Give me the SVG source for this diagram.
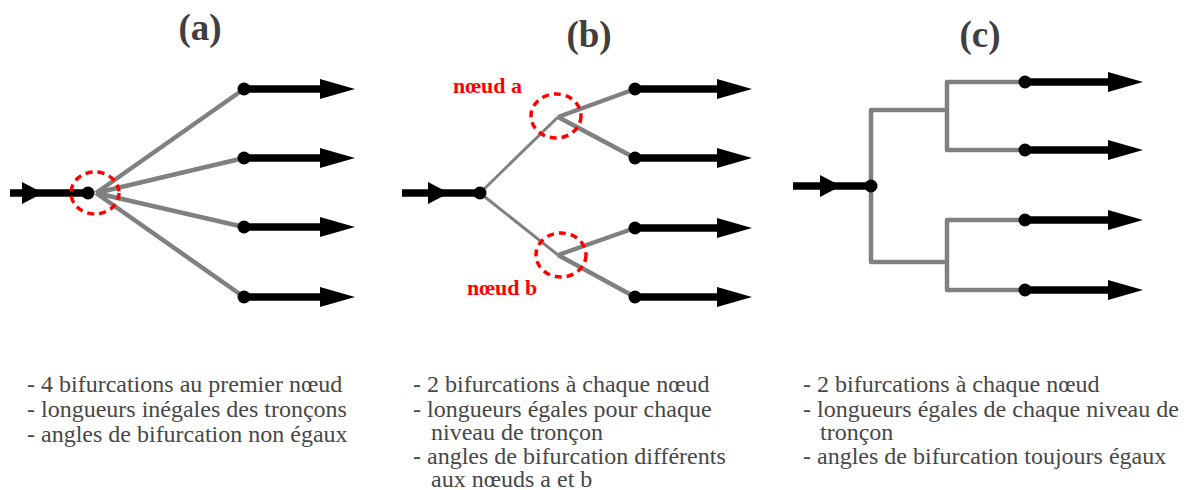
<svg xmlns="http://www.w3.org/2000/svg" width="1199" height="490" viewBox="0 0 1199 490">
<defs>
<style>
.title{font-family:"Liberation Serif","Times New Roman",serif;font-weight:bold;font-size:37px;fill:#3f3f3f;text-anchor:middle}
.desc{font-family:"Liberation Serif","Times New Roman",serif;font-size:24px;fill:#474747}
.lbl{font-family:"Liberation Serif","Times New Roman",serif;font-weight:bold;font-size:22px;fill:#ff0000}
.br{fill:none;stroke:#808080;stroke-width:4.5;stroke-linejoin:round}
.thin{stroke-width:3}
.out{fill:none;stroke:#000;stroke-width:7.5;marker-end:url(#head)}
.in{fill:none;stroke:#000;stroke-width:7.5;marker-mid:url(#mid)}
.dot{fill:#000}
.ring{fill:none;stroke:#ff0000;stroke-width:3.5;stroke-dasharray:7 5}
</style>
<marker id="head" markerUnits="userSpaceOnUse" markerWidth="36" markerHeight="22" refX="0" refY="10" orient="auto" overflow="visible">
<path d="M0,0 L35,10 L0,20 z" fill="#000"/>
</marker>
<marker id="mid" markerUnits="userSpaceOnUse" markerWidth="22" markerHeight="24" refX="0" refY="11" orient="auto" overflow="visible">
<path d="M0,0 L21,11 L0,22 z" fill="#000"/>
</marker>
</defs>
<rect width="1199" height="490" fill="#fff"/>

<g id="titles">
<text class="title" x="200" y="40">(a)</text>
<text class="title" x="589" y="47">(b)</text>
<text class="title" x="980" y="47">(c)</text>
</g>

<g id="connectors">
<!-- panel a -->
<polyline class="in" points="10,193 22,193 88,193"/>
<path class="br" d="M96,193 L244,89 M96,193 L244,158 M96,193 L244,227 M96,193 L244,297"/>
<path class="out" d="M244,89 H320"/>
<path class="out" d="M244,158 H320"/>
<path class="out" d="M244,227 H320"/>
<path class="out" d="M244,297 H320"/>
<!-- panel b -->
<polyline class="in" points="402,193 428,193 480,193"/>
<path class="br thin" d="M480,193 L558,117 M480,193 L558,255"/>
<path class="br" d="M558,117 L635,89 M558,117 L635,158 M558,255 L635,228 M558,255 L635,297"/>
<path class="out" d="M635,89 H717"/>
<path class="out" d="M635,158 H717"/>
<path class="out" d="M635,228 H717"/>
<path class="out" d="M635,297 H717"/>
<!-- panel c -->
<polyline class="in" points="793,186 820,186 871,186"/>
<path class="br" d="M947,110 H871 V262 H947"/>
<path class="br" d="M1025,82 H947 V150 H1025"/>
<path class="br" d="M1025,220 H947 V290 H1025"/>
<path class="out" d="M1025,82 H1108"/>
<path class="out" d="M1025,150 H1108"/>
<path class="out" d="M1025,220 H1108"/>
<path class="out" d="M1025,290 H1108"/>
</g>

<g id="node-a-root"><circle class="dot" cx="88" cy="193" r="6.5"/><ellipse class="ring" cx="95" cy="193" rx="24" ry="21"/></g>
<g id="node-a-1"><circle class="dot" cx="244" cy="89" r="6.5"/></g>
<g id="node-a-2"><circle class="dot" cx="244" cy="158" r="6.5"/></g>
<g id="node-a-3"><circle class="dot" cx="244" cy="227" r="6.5"/></g>
<g id="node-a-4"><circle class="dot" cx="244" cy="297" r="6.5"/></g>

<g id="node-b-root"><circle class="dot" cx="480" cy="193" r="6.5"/></g>
<g id="node-b-a"><ellipse class="ring" cx="556" cy="116" rx="25" ry="22"/><text class="lbl" x="453" y="93">nœud a</text></g>
<g id="node-b-b"><ellipse class="ring" cx="561" cy="255" rx="25" ry="22"/><text class="lbl" x="467" y="295">nœud b</text></g>
<g id="node-b-1"><circle class="dot" cx="635" cy="89" r="6.5"/></g>
<g id="node-b-2"><circle class="dot" cx="635" cy="158" r="6.5"/></g>
<g id="node-b-3"><circle class="dot" cx="635" cy="228" r="6.5"/></g>
<g id="node-b-4"><circle class="dot" cx="635" cy="297" r="6.5"/></g>

<g id="node-c-root"><circle class="dot" cx="871" cy="186" r="6.5"/></g>
<g id="node-c-1"><circle class="dot" cx="1025" cy="82" r="6.5"/></g>
<g id="node-c-2"><circle class="dot" cx="1025" cy="150" r="6.5"/></g>
<g id="node-c-3"><circle class="dot" cx="1025" cy="220" r="6.5"/></g>
<g id="node-c-4"><circle class="dot" cx="1025" cy="290" r="6.5"/></g>

<g id="desc-a">
<text class="desc" x="27" y="392">- 4 bifurcations au premier nœud</text>
<text class="desc" x="27" y="417">- longueurs inégales des tronçons</text>
<text class="desc" x="27" y="442">- angles de bifurcation non égaux</text>
</g>
<g id="desc-b">
<text class="desc" x="413" y="392">- 2 bifurcations à chaque nœud</text>
<text class="desc" x="413" y="417">- longueurs égales pour chaque</text>
<text class="desc" x="431" y="440">niveau de tronçon</text>
<text class="desc" x="413" y="464">- angles de bifurcation différents</text>
<text class="desc" x="431" y="487">aux nœuds a et b</text>
</g>
<g id="desc-c">
<text class="desc" x="803" y="392">- 2 bifurcations à chaque nœud</text>
<text class="desc" x="803" y="417">- longueurs égales de chaque niveau de</text>
<text class="desc" x="820" y="440">tronçon</text>
<text class="desc" x="803" y="464">- angles de bifurcation toujours égaux</text>
</g>
</svg>
